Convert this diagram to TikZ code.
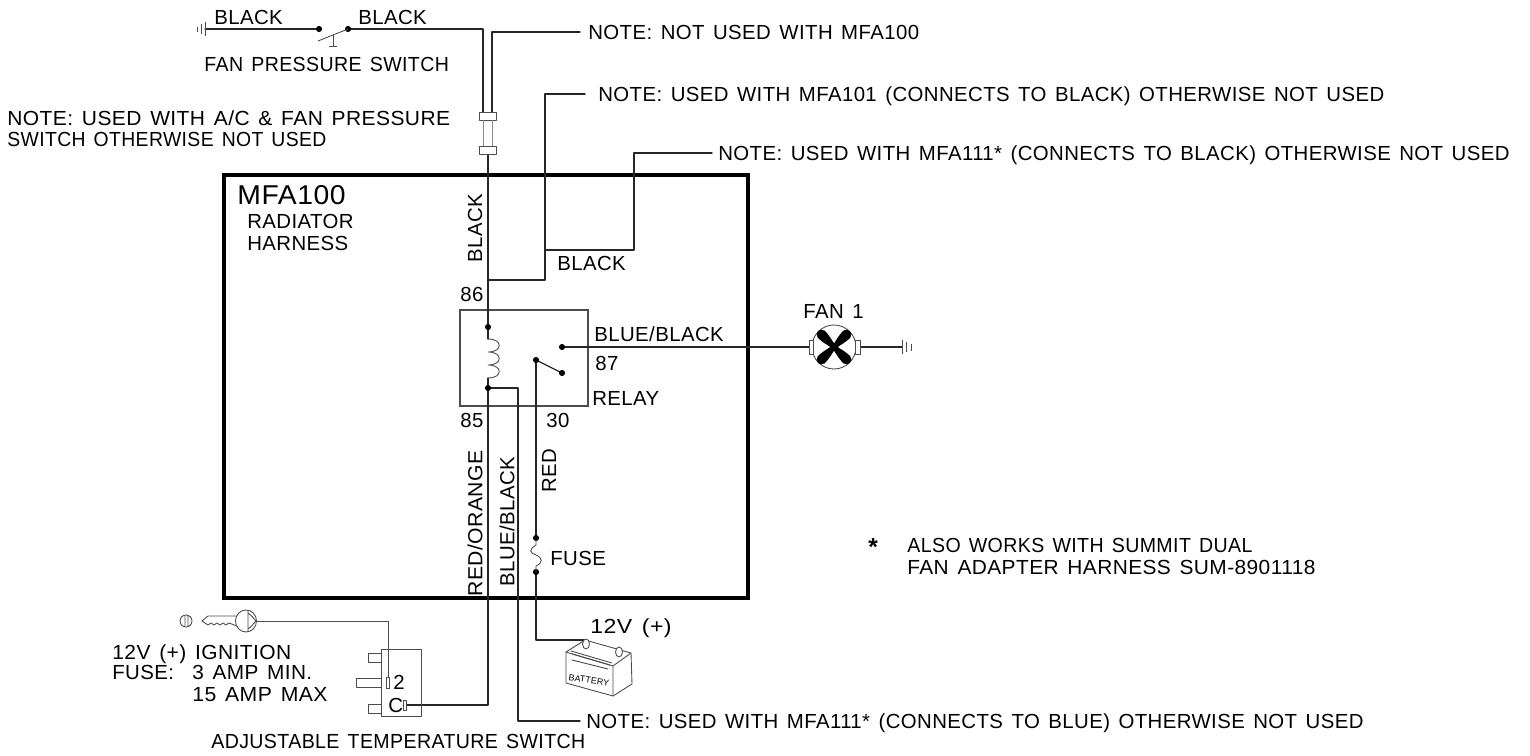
\documentclass[tikz,border=0pt]{standalone}
\usepackage{fontspec}
\setmainfont[LetterSpace=2,WordSpace=1.4]{Liberation Sans}
\tikzset{
	x=0.02cm,y=-0.02cm,
	wire/.style={line width=0.75pt,draw=black!85,line cap=round,line join=round},
	thinwire/.style={line width=0.5pt,draw=black!70,line join=round},
	lbl/.style={anchor=west,inner sep=0pt,font=\fontsize{11.6}{13}\selectfont},
	vlbl/.style={lbl,rotate=90},
	wide/.style={transform shape,xscale=#1},
}
\newcommand{\wiredot}[1]{\filldraw[black] (#1) circle (1.5pt);}
\begin{document}
\begin{tikzpicture}
	\useasboundingbox (0,0) rectangle (1530,756);
	% points on the wires
	\coordinate (gndL) at (205,29);
	\coordinate (swA) at (319,29);
	\coordinate (swB) at (348,29);
	\coordinate (swC) at (483,29);
	\coordinate (plugA) at (483,112);
	\coordinate (noteA) at (492,32);
	\coordinate (noteB) at (580,32);
	\coordinate (plugB) at (492,112);
	\coordinate (wireTop) at (488,154);
	\coordinate (c86) at (488,327);
	\coordinate (c85) at (488,388);
	\coordinate (coilT) at (488,339);
	\coordinate (coilB) at (488,378);
	\coordinate (tapA) at (488,280);
	\coordinate (tapB) at (545,280);
	\coordinate (tapC) at (545,250);
	\coordinate (tapD) at (545,94);
	\coordinate (tapE) at (585,94);
	\coordinate (tapF) at (634,250);
	\coordinate (tapG) at (634,153);
	\coordinate (tapH) at (712,153);
	\coordinate (c87) at (562,347);
	\coordinate (cOpen) at (562,373);
	\coordinate (c30) at (536,360);
	\coordinate (fuseT) at (536,538);
	\coordinate (fuseB) at (536,572);
	\coordinate (battW) at (536,640);
	\coordinate (battP) at (585,640);
	\coordinate (fanL) at (809,347);
	\coordinate (fanR) at (860,347);
	\coordinate (gndR) at (902,347);
	\coordinate (fan) at (834,347);
	\coordinate (blueA) at (518,388);
	\coordinate (blueB) at (518,721);
	\coordinate (blueC) at (580,721);
	\coordinate (wireC) at (488,705);
	\coordinate (tsC) at (406,705);
	\coordinate (keyR) at (256,621);
	\coordinate (tsA) at (388,621);
	\coordinate (tsB) at (388,678);

	% harness and relay boxes
	\draw[line width=2.3pt,black] (224,175) rectangle (748,598);
	\draw[line width=0.8pt,black!70] (460,310) rectangle (588,406);

	% wires
	\draw[wire] (gndL) -- (swA);
	\draw[wire] (swB) -- (swC) -- (plugA);
	\draw[wire] (noteB) -- (noteA) -- (plugB);
	\draw[wire] (wireTop) -- (c86) -- (coilT);
	\draw[wire] (coilB) -- (c85) -- (wireC) -- (tsC);
	\draw[wire] (tapA) -- (tapB) -- (tapD) -- (tapE);
	\draw[wire] (tapC) -- (tapF) -- (tapG) -- (tapH);
	\draw[wire] (c87) -- (fanL);
	\draw[wire] (fanR) -- (gndR);
	\draw[wire] (c30) -- (cOpen);
	\draw[wire] (c30) -- (fuseT);
	\draw[wire] (fuseB) -- (battW) -- (battP);
	\draw[wire] (c85) -- (blueA) -- (blueB) -- (blueC);
	\draw[thinwire] (keyR) -- (tsA) -- (tsB);
	\wiredot{swA} \wiredot{swB} \wiredot{c86} \wiredot{c85} \wiredot{c87}
	\wiredot{cOpen} \wiredot{c30} \wiredot{fuseT} \wiredot{fuseB}

	% switch lever
	\draw[thinwire] (318,41) -- (swB);
	\draw[thinwire] (333,35) -- (333,46) (329,46) -- (337,46);
	% grounds
	\draw[thinwire] (205,22) -- (205,36) (201,24) -- (201,34) (197,27) -- (197,32);
	\draw[thinwire] (902,340) -- (902,354) (906,342) -- (906,352) (911,344) -- (911,351);
	% plug
	\draw[thinwire,fill=white] (479,112) rectangle (496,120);
	\draw[thinwire,fill=white] (479,146) rectangle (496,154);
	\draw[thinwire,black!45] (483,120) -- (483,146) (492,120) -- (492,146);
	% coil
	\draw[thinwire] (coilT) .. controls (503,339) and (503,352) .. (488,352)
		.. controls (503,352) and (503,365) .. (488,365)
		.. controls (503,365) and (503,378) .. (coilB);
	% fuse
	\draw[thinwire] (fuseT) -- (536,545) .. controls (528,550) and (530,553) .. (536,555)
		.. controls (543,558) and (543,563) .. (536,566) -- (fuseB);
	% fan
	\draw[thinwire] (fan) circle (0.44cm);
	\draw[thinwire,fill=white] (fanL) ++(0,-7) rectangle ++(4,14);
	\draw[thinwire,fill=white] (fanR) ++(0,-7) rectangle ++(-5,14);
	\foreach \a in {45,135,225,315}
		\fill[black,shift={(fan)},rotate=\a] (0,-2) .. controls (5,-3) and (12,-5) .. (18,-5) .. controls (24,-4) and (24,4) .. (18,5) .. controls (12,5) and (5,3) .. (0,2) -- cycle;
	% key
	\draw[thinwire] (186,621) circle (0.12cm) (185,616) -- (185,626) (188,616) -- (188,626);
	\draw[thinwire] (237,616) -- (208,616) -- (202,621) -- (208,625) -- (211,623) -- (214,625) -- (217,623) -- (220,625) -- (223,623) -- (226,625) -- (229,623) -- (237,626);
	\draw[thinwire,fill=white] (246,621) ellipse (0.21cm and 0.22cm);
	\draw[thinwire] (248,610) -- (248,632) (248,613) .. controls (252,616) and (254,619) .. (keyR) .. controls (254,623) and (252,626) .. (248,629);
	% temperature switch
	\draw[thinwire] (381,649) rectangle (421,716);
	\draw[thinwire] (381,653) -| (368,662) -- (381,662);
	\draw[thinwire] (381,678) -| (356,687) -- (381,687);
	\draw[thinwire] (381,704) -| (368,713) -- (381,713);
	\draw[thinwire,fill=white] (386,677) rectangle (389,688);
	\draw[thinwire,fill=white] (403,700) rectangle (406,710);
	% battery
	\draw[thinwire,fill=white] (566,652) -- (566,683) -- (613,696) -- (632,684) -- (631,653) -- (585,640) -- cycle;
	\draw[thinwire] (566,652) -- (613,666) -- (631,653) (613,666) -- (613,696);
	\draw[thinwire] (571,651) -- (612,663) (572,654) -- (610,665) (572,660) -- (608,669);
	\draw[thinwire,fill=white] (586,644) ellipse (0.07cm and 0.1cm);
	\draw[thinwire,fill=white] (619,652) ellipse (0.07cm and 0.1cm);
	\node[inner sep=0pt,rotate=-8,font=\fontsize{5}{6}\selectfont] (battTxt) at (589,680) {BATTERY};

	% labels
	\node[lbl] (lblBlackA) at (214,17) {BLACK};
	\node[lbl] (lblBlackB) at (358,17) {BLACK};
	\node[lbl,wide=0.96] (lblPress) at (204,64) {FAN PRESSURE SWITCH};
	\node[lbl,wide=1.03] (lblAcA) at (7,118) {NOTE: USED WITH A/C \& FAN PRESSURE};
	\node[lbl,wide=0.95] (lblAcB) at (7,139) {SWITCH OTHERWISE NOT USED};
	\node[lbl] (noteNot) at (588,32) {NOTE: NOT USED WITH MFA100};
	\node[lbl] (note101) at (598,96) {NOTE: USED WITH MFA101 (CONNECTS TO BLACK) OTHERWISE NOT USED};
	\node[lbl] (note111) at (718,155) {NOTE: USED WITH MFA111* (CONNECTS TO BLACK) OTHERWISE NOT USED};
	\node[lbl] (noteBlue) at (586,723) {NOTE: USED WITH MFA111* (CONNECTS TO BLUE) OTHERWISE NOT USED};
	\node[lbl,wide=1.04,font=\fontsize{15.5}{18}\selectfont] (lblMfa) at (237,195) {MFA100};
	\node[lbl] (lblRad) at (247,221) {RADIATOR};
	\node[lbl] (lblHarn) at (247,243) {HARNESS};
	\node[vlbl] (lblBlackC) at (475,263) {BLACK};
	\node[lbl] (lblBlackD) at (557,263) {BLACK};
	\node[lbl] (lbl86) at (460,294) {86};
	\node[lbl] (lbl85) at (460,420) {85};
	\node[lbl] (lbl30) at (546,420) {30};
	\node[lbl] (lbl87) at (595,363) {87};
	\node[lbl] (lblBB) at (594,334) {BLUE/BLACK};
	\node[lbl] (lblRelay) at (592,398) {RELAY};
	\node[lbl] (lblFan) at (803,311) {FAN 1};
	\node[vlbl,wide=1.04] (lblRO) at (475,597) {RED/ORANGE};
	\node[vlbl] (lblBBv) at (507,587) {BLUE/BLACK};
	\node[vlbl] (lblRed) at (549,493) {RED};
	\node[lbl] (lblFuse) at (550,558) {FUSE};
	\node[lbl,wide=1.13] (lbl12V) at (590,628) {12V (+)};
	\node[lbl,font=\bfseries\fontsize{14}{14}\selectfont] (lblStar) at (868,547) {*};
	\node[lbl,wide=0.96] (lblAlso) at (907,545) {ALSO WORKS WITH SUMMIT DUAL};
	\node[lbl,wide=1.025] (lblAdapt) at (907,567) {FAN ADAPTER HARNESS SUM-8901118};
	\node[lbl,wide=1.03] (lblIgn) at (112,654) {12V (+) IGNITION};
	\node[lbl] (lblFuseA) at (112,672) {FUSE:};
	\node[lbl,wide=1.02] (lblMin) at (192,672) {3 AMP MIN.};
	\node[lbl,wide=1.04] (lblMax) at (192,695) {15 AMP MAX};
	\node[lbl] (lbl2) at (393,682) {2};
	\node[lbl] (lblC) at (388,705) {C};
	\node[lbl,wide=0.96] (lblAdj) at (211,741) {ADJUSTABLE TEMPERATURE SWITCH};
\end{tikzpicture}
\end{document}
